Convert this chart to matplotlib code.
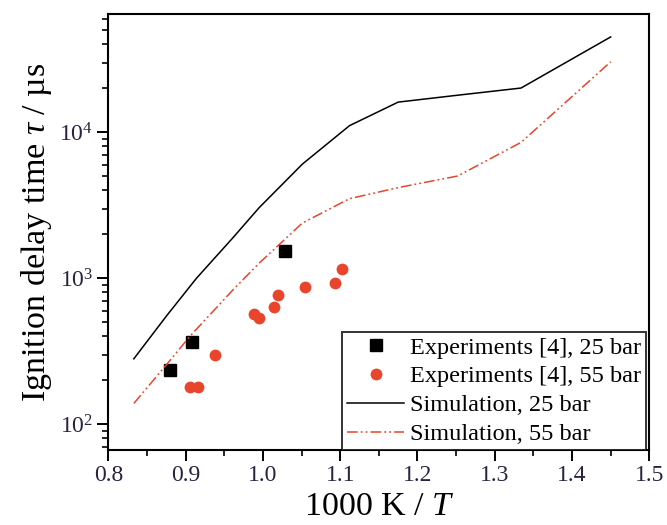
import numpy as np
import matplotlib.pyplot as plt

plt.rcParams['font.family'] = 'Liberation Serif'
plt.rcParams['mathtext.fontset'] = 'custom'
plt.rcParams['mathtext.rm'] = 'Liberation Serif'
plt.rcParams['mathtext.it'] = 'Liberation Serif:italic'

# Simulation, 25 bar
sim25_x = [0.833, 0.875, 0.914, 0.961, 0.995, 1.051, 1.112, 1.175, 1.25, 1.334, 1.45]
sim25_y = [281, 550, 1000, 1890, 3040, 6050, 11100, 16100, 17900, 20100, 45000]

# Simulation, 55 bar
sim55_x = [0.833, 0.876, 0.9065, 0.961, 0.995, 1.0215, 1.051, 1.112, 1.175, 1.252, 1.334, 1.45]
sim55_y = [139, 259, 406, 830, 1268, 1710, 2390, 3510, 4180, 5020, 8530, 30400]

# Experiments [4], 25 bar
exp25_x = [0.8794, 0.908, 1.028]
exp25_y = [235, 366, 1527]

# Experiments [4], 55 bar
exp55_x = [0.9056, 0.9159, 0.938, 0.988, 0.995, 1.015, 1.020, 1.055, 1.093, 1.103]
exp55_y = [179, 181, 296, 574, 536, 638, 767, 867, 925, 1158]

red = "#e8452c"
tickcol = "#2a2240"

fig = plt.figure(figsize=(6.67, 5.25), dpi=100)
ax = fig.add_axes([0.1624, 0.1429, 0.8111, 0.8304])

ax.plot(exp25_x, exp25_y, "s", color="black", markersize=8, label="Experiments [4], 25 bar")
ax.plot(exp55_x, exp55_y, "o", color=red, markersize=8.5, markeredgewidth=0, label="Experiments [4], 55 bar")
ax.plot(sim25_x, sim25_y, "-", color="black", linewidth=1.1, label="Simulation, 25 bar")
ax.plot(sim55_x, sim55_y, color=red, linewidth=1.1, dashes=(7, 2, 1.2, 2, 1.2, 2),
        label="Simulation, 55 bar")

ax.set_yscale("log")
ax.set_xlim(0.8, 1.5)
ax.set_ylim(66.7, 64600)
ax.set_xticks(np.arange(0.8, 1.51, 0.1))
ax.set_xticks(np.arange(0.85, 1.5, 0.1), minor=True)
ax.xaxis.set_major_formatter(plt.FormatStrFormatter("%.1f"))

ax.tick_params(which="major", length=8, width=1.4, labelsize=17, direction="out",
               colors="black", labelcolor=tickcol, pad=3)
ax.tick_params(which="minor", length=4, width=1.2, direction="out")
for s in ax.spines.values():
    s.set_linewidth(1.5)

ax.set_xlabel("1000 K / $T$", fontsize=24.5, labelpad=4)
ax.set_ylabel(r"Ignition delay time $\tau$ / µs", fontsize=24.5, labelpad=4)

leg = ax.legend(loc="lower right", bbox_to_anchor=(0.994, 0.0), fontsize=17.5,
                frameon=True, fancybox=False, edgecolor="black", handlelength=2.35,
                handletextpad=0.25, borderpad=0.2, labelspacing=0.28, borderaxespad=0)
leg.get_frame().set_linewidth(1.4)

fig.savefig("out.png", dpi=100)
